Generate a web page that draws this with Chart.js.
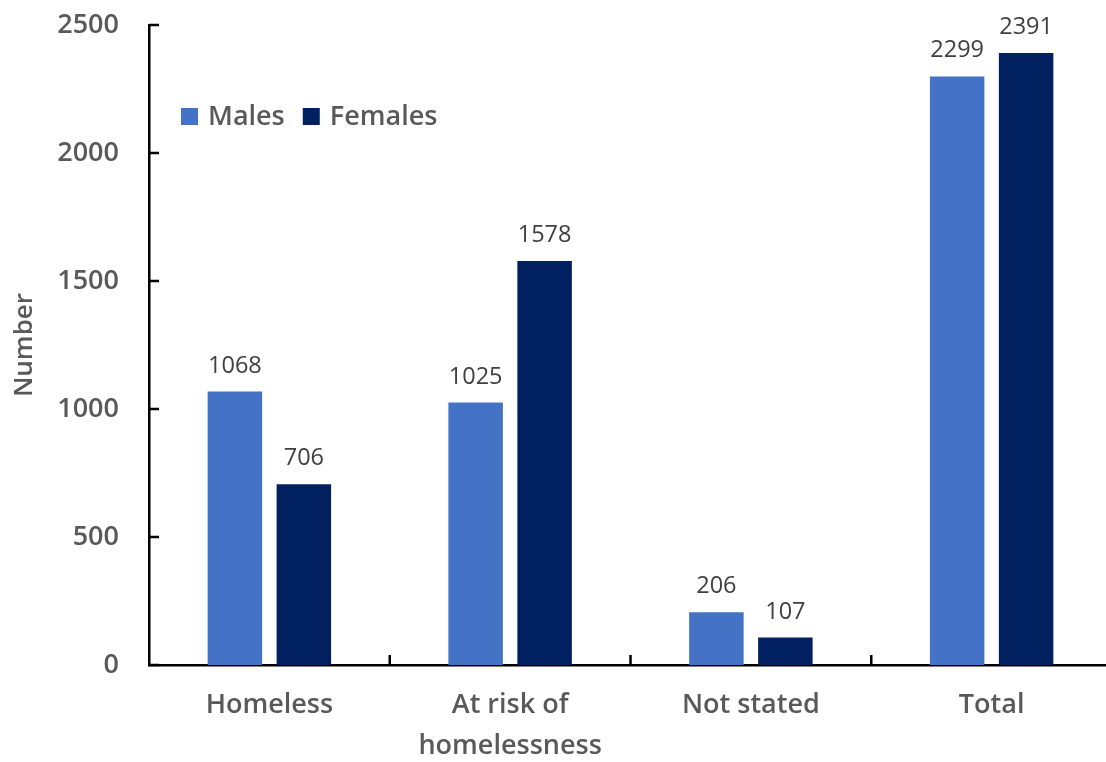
<!DOCTYPE html>
<html>
<head>
<meta charset="utf-8">
<script src="https://cdn.jsdelivr.net/npm/chart.js@4.4.1/dist/chart.umd.min.js"></script>
<style>
  html, body { margin: 0; padding: 0; background: #ffffff; overflow: hidden; }
  #wrap { width: 1112px; height: 762px; }
</style>
</head>
<body>
<div id="wrap"><canvas id="c" width="1112" height="762"></canvas></div>
<script>
const categories = [["Homeless"], ["At risk of", "homelessness"], ["Not stated"], ["Total"]];
const seriesNames = ["Males", "Females"];
const males = [1068, 1025, 206, 2299];
const females = [706, 1578, 107, 2391];
const seriesColors = ["#4472C4", "#002060"];
const yTicks = [0, 500, 1000, 1500, 2000, 2500];

const FONT = "'Open Sans', 'Noto Sans', sans-serif";
const GREY = "#595959";

const innerTicks = {
  id: 'innerTicks',
  afterDraw(chart) {
    const ctx = chart.ctx;
    const y = chart.scales.y, x = chart.scales.x;
    ctx.save();
    ctx.strokeStyle = '#000000';
    ctx.lineWidth = 2.5;
    ctx.beginPath();
    yTicks.forEach(v => {
      const py = y.getPixelForValue(v);
      ctx.moveTo(x.left, py);
      ctx.lineTo(x.left + 10, py);
    });
    for (let i = 0; i < categories.length - 1; i++) {
      const px = (x.getPixelForValue(i) + x.getPixelForValue(i + 1)) / 2;
      ctx.moveTo(px, y.bottom);
      ctx.lineTo(px, y.bottom - 10);
    }
    ctx.stroke();
    ctx.restore();
  }
};

const dataLabels = {
  id: 'dataLabels',
  afterDatasetsDraw(chart) {
    const ctx = chart.ctx;
    ctx.save();
    ctx.font = "400 23.5px " + FONT;
    ctx.fillStyle = "#404040";
    ctx.textAlign = 'center';
    ctx.textBaseline = 'alphabetic';
    chart.data.datasets.forEach((ds, di) => {
      const meta = chart.getDatasetMeta(di);
      meta.data.forEach((bar, i) => {
        ctx.fillText(String(ds.data[i]), bar.x, bar.y - 19);
      });
    });
    ctx.restore();
  }
};

const innerLegend = {
  id: 'innerLegend',
  afterDraw(chart) {
    const ctx = chart.ctx;
    ctx.save();
    ctx.font = "600 27px " + FONT;
    ctx.textBaseline = 'middle';
    ctx.textAlign = 'left';
    let bx = 181;
    const cy = 117;
    chart.data.datasets.forEach(ds => {
      ctx.fillStyle = ds.backgroundColor;
      ctx.fillRect(bx, cy - 9, 17, 17);
      ctx.fillStyle = GREY;
      const tx = bx + 27;
      ctx.fillText(ds.label, tx, cy);
      bx = tx + ctx.measureText(ds.label).width + 18;
    });
    ctx.restore();
  }
};

new Chart(document.getElementById('c'), {
  type: 'bar',
  data: {
    labels: categories,
    datasets: [
      { label: seriesNames[0], data: males, backgroundColor: seriesColors[0] },
      { label: seriesNames[1], data: females, backgroundColor: seriesColors[1] }
    ]
  },
  options: {
    responsive: false,
    animation: false,
    devicePixelRatio: 1,
    layout: { padding: { left: 0, right: 0, top: 25, bottom: 0 } },
    datasets: { bar: { categoryPercentage: 0.573, barPercentage: 0.79 } },
    plugins: {
      legend: { display: false },
      tooltip: { enabled: false }
    },
    scales: {
      x: {
        grid: { display: false, drawTicks: false },
        border: { display: true, color: '#000000', width: 2.5 },
        ticks: {
          color: GREY,
          font: { family: FONT, size: 27, weight: 600, lineHeight: 1.55 },
          padding: 19,
          maxRotation: 0,
          autoSkip: false
        },
        afterFit(scale) {
          scale.height = 97;
          scale.paddingLeft = 0; scale.paddingRight = 0;
        }
      },
      y: {
        min: 0,
        max: 2500,
        grid: { display: false, drawTicks: false },
        border: { display: true, color: '#000000', width: 2.5 },
        ticks: {
          stepSize: 500,
          color: GREY,
          font: { family: FONT, size: 27, weight: 600 },
          padding: 30,
          callback: (v) => String(v)
        },
        title: {
          display: true,
          text: 'Number',
          color: GREY,
          font: { family: FONT, size: 26, weight: 600, lineHeight: 1.2 },
          padding: { top: 9, bottom: 0 }
        },
        afterFit(scale) {
          scale.width = 149;
          scale.paddingTop = 0; scale.paddingBottom = 0;
        }
      }
    }
  },
  plugins: [innerTicks, dataLabels, innerLegend]
});
</script>
</body>
</html>
